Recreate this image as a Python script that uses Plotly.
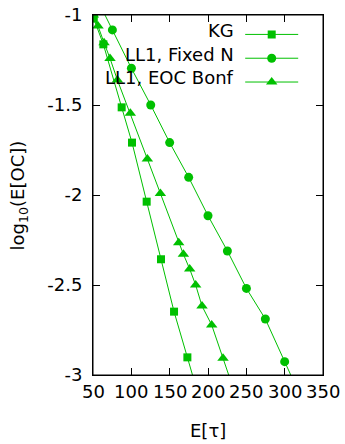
import plotly.graph_objects as go

# ---- data ----
kg_x = [51, 63.5, 87.4, 100.9, 120, 138.7, 155.7, 173.1, 190]
kg_y = [-1.02, -1.163, -1.513, -1.709, -2.037, -2.357, -2.648, -2.902, -3.15]

fixed_x = [50.5, 75.3, 100.1, 125.3, 150, 174.8, 200, 225.3, 250.1, 274.8, 300, 325]
fixed_y = [-0.87, -1.083, -1.296, -1.5, -1.709, -1.902, -2.115, -2.311, -2.519, -2.689, -2.926, -3.16]

bonf_x = [50.5, 56.5, 64.4, 72.2, 81.8, 98.7, 120.9, 137.9, 161.8, 167.9, 176.1, 183.9, 192.2, 204.8, 219.6, 235]
bonf_y = [-1.0, -1.061, -1.154, -1.241, -1.361, -1.546, -1.8, -1.991, -2.265, -2.329, -2.411, -2.5, -2.617, -2.722, -2.907, -3.1]

series_names = ["KG", "LL1, Fixed N", "LL1, EOC Bonf"]

x_tickvals = [50, 100, 150, 200, 250, 300, 350]
x_ticktext = ["50", "100", "150", "200", "250", "300", "350"]
y_tickvals = [-1, -1.5, -2, -2.5, -3]
y_ticktext = ["-1", "-1.5", "-2", "-2.5", "-3"]

GREEN = "#00c000"
FONT = "DejaVu Sans"
FS = 18

fig = go.Figure()
for xs, ys, sym, sz in [
    (kg_x, kg_y, "square", 8),
    (fixed_x, fixed_y, "circle", 9),
    (bonf_x, bonf_y, "triangle-up", 10),
]:
    fig.add_trace(go.Scatter(
        x=xs, y=ys, mode="lines+markers", name=" ",
        line=dict(color=GREEN, width=1),
        marker=dict(symbol=sym, size=sz, color=GREEN, line=dict(width=0)),
    ))

axis_common = dict(
    showgrid=False, zeroline=False, showline=True, linecolor="black", linewidth=1,
    mirror="ticks", ticks="inside", ticklen=7, tickcolor="black", tickwidth=1,
    tickfont=dict(family=FONT, size=FS, color="black"), automargin=False,
    ticklabeloverflow="allow",
)

# x tick labels are written as text under each tick (see annotations below)
fig.update_xaxes(range=[50, 350], tickvals=x_tickvals, showticklabels=False,
                 **axis_common)
fig.update_yaxes(range=[-3, -1], tickvals=y_tickvals, ticktext=y_ticktext,
                 ticklabelstandoff=6, **axis_common)

for v, t in zip(x_tickvals, x_ticktext):
    fig.add_annotation(text=t, xref="x", yref="paper", x=v, y=-0.047,
                       xanchor="center", yanchor="middle", showarrow=False,
                       font=dict(family=FONT, size=FS, color="black"))

# plot frame
fig.add_shape(type="rect", xref="paper", yref="paper", x0=0, x1=1, y0=0, y1=1,
              line=dict(color="black", width=1), layer="above")

# legend texts (right aligned, gnuplot-style key)
legend_text_y = [0.958, 0.891, 0.826]
for name, yy in zip(series_names, legend_text_y):
    fig.add_annotation(text=name, xref="paper", yref="paper", x=0.622, y=yy,
                       xanchor="right", yanchor="middle", showarrow=False,
                       font=dict(family=FONT, size=FS, color="black"))

# axis titles
fig.add_annotation(text="log<sub>10</sub>(E[OC])", xref="paper", yref="paper",
                   x=-0.32, y=0.5, textangle=-90, showarrow=False,
                   xanchor="center", yanchor="middle",
                   font=dict(family=FONT, size=FS, color="black"))
fig.add_annotation(text="E[τ]", xref="paper", yref="paper",
                   x=0.5, y=-0.155, showarrow=False,
                   xanchor="center", yanchor="middle",
                   font=dict(family=FONT, size=FS, color="black"))

fig.update_layout(
    width=345, height=444,
    margin=dict(l=93, r=22, t=15, b=69, autoexpand=False),
    plot_bgcolor="white", paper_bgcolor="white",
    showlegend=True,
    legend=dict(x=0.64, y=0.993, xanchor="left", yanchor="top",
                bgcolor="rgba(0,0,0,0)", itemwidth=53,
                font=dict(family=FONT, size=16), tracegroupgap=0,
                itemclick=False, itemdoubleclick=False),
)

# remove the default 8px page margin so the figure fills the window exactly
fig.write_html("out.html", config={"displayModeBar": False},
               post_script="document.body.style.margin='0';document.body.style.overflow='hidden';")
